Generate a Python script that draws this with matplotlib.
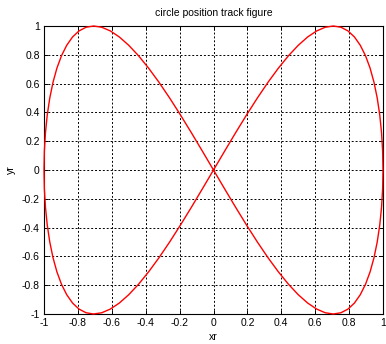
import matplotlib
matplotlib.use("Agg")
import matplotlib.pyplot as plt
import numpy as np

# One quarter of the track: from (0,0) up through the peak (0.707,1) to (1,0)
quarter_x = [0.0, 0.0654, 0.1305, 0.1951, 0.2588, 0.3214, 0.3827, 0.4423, 0.5, 0.5556,
             0.6088, 0.6593, 0.7071, 0.7518, 0.7934, 0.8315, 0.8660, 0.8969, 0.9239,
             0.9469, 0.9659, 0.9808, 0.9914, 0.9979, 1.0]
quarter_y = [0.0, 0.1305, 0.2588, 0.3827, 0.5, 0.6088, 0.7071, 0.7934, 0.8660, 0.9239,
             0.9659, 0.9914, 1.0, 0.9914, 0.9659, 0.9239, 0.8660, 0.7934, 0.7071,
             0.6088, 0.5, 0.3827, 0.2588, 0.1305, 0.0]

x_ticks = [-1, -0.8, -0.6, -0.4, -0.2, 0, 0.2, 0.4, 0.6, 0.8, 1]
y_ticks = [-1, -0.8, -0.6, -0.4, -0.2, 0, 0.2, 0.4, 0.6, 0.8, 1]
x_ticklabels = ["-1", "-0.8", "-0.6", "-0.4", "-0.2", "0", "0.2", "0.4", "0.6", "0.8", "1"]
y_ticklabels = ["-1", "-0.8", "-0.6", "-0.4", "-0.2", "0", "0.2", "0.4", "0.6", "0.8", "1"]

qx = np.array(quarter_x)
qy = np.array(quarter_y)
half_x = np.concatenate([qx, qx[::-1][1:]])
half_y = np.concatenate([qy, -qy[::-1][1:]])
track_x = np.concatenate([half_x, -half_x[1:]])
track_y = np.concatenate([half_y, half_y[1:]])

plt.rcParams['font.family'] = ['Liberation Sans', 'DejaVu Sans']
fig = plt.figure(figsize=(3.86, 3.44), dpi=100)
fig.patch.set_facecolor('white')
ax = fig.add_axes([44/386, 30/344, 339/386, 288/344])
ax.plot(track_x, track_y, color='red', lw=1.0, zorder=3, clip_on=False)
ax.set_xlim(-1, 1)
ax.set_ylim(-1, 1)
ax.set_xticks(x_ticks)
ax.set_xticklabels(x_ticklabels)
ax.set_yticks(y_ticks)
ax.set_yticklabels(y_ticklabels)
ax.grid(True, color='black', linestyle=(0, (2, 2)), lw=0.7)
ax.tick_params(direction='in', length=3, labelsize=7.5, width=0.7, top=True, right=True, pad=3)
for s in ax.spines.values():
    s.set_linewidth(0.8)
ax.set_title('circle position track figure', fontsize=7.5, pad=7)
ax.set_xlabel('xr', fontsize=7.5, labelpad=3)
ax.set_ylabel('yr', fontsize=7.5, labelpad=4)
fig.savefig('out.png', dpi=100)
